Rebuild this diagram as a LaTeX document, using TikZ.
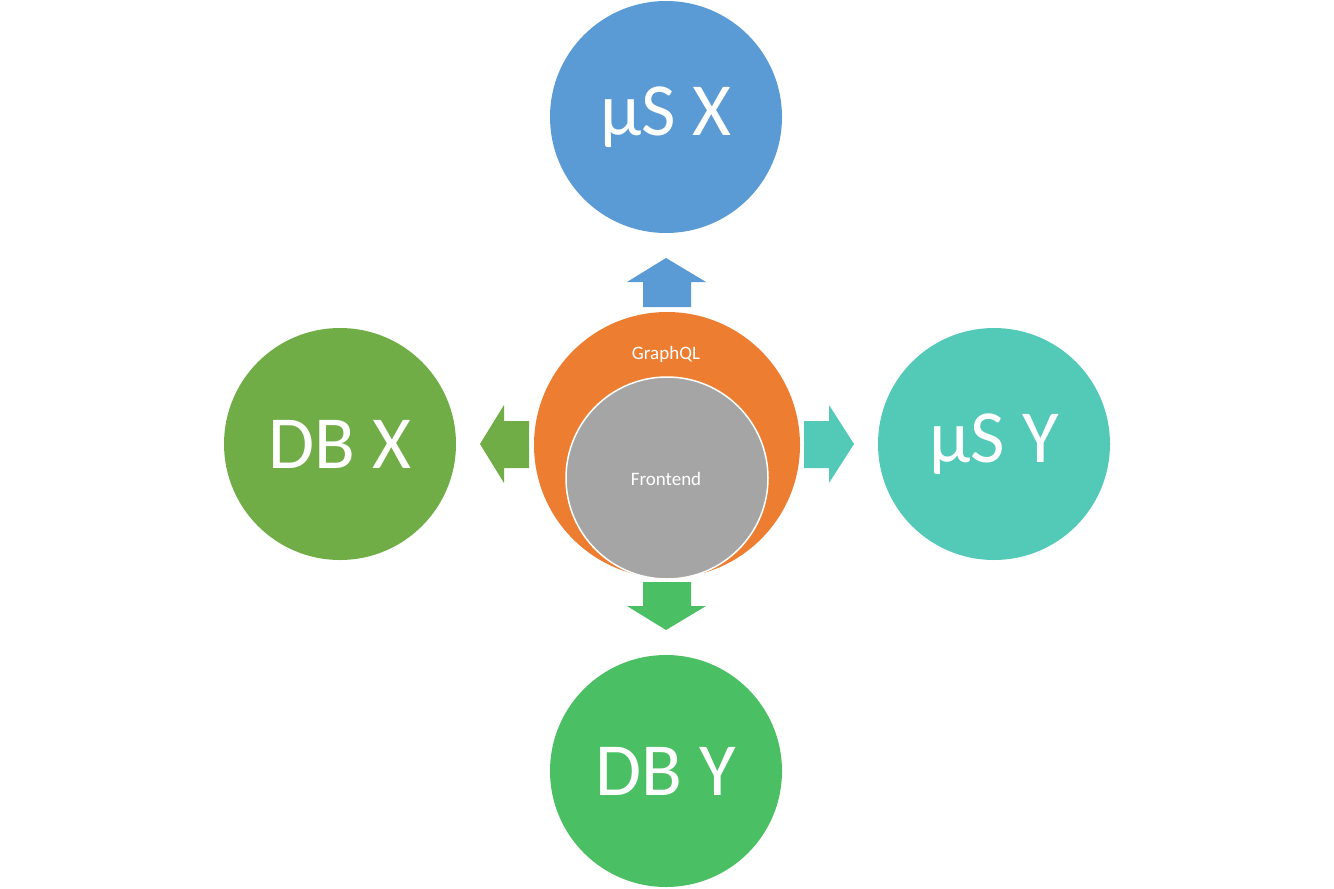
\documentclass[tikz,border=0pt]{standalone}
\usepackage{fontspec}
\setmainfont{Carlito}
\definecolor{cblue}{HTML}{5B9BD5}
\definecolor{corange}{HTML}{ED7D31}
\definecolor{cgrey}{HTML}{A5A5A5}
\definecolor{cgreen}{HTML}{70AD47}
\definecolor{cteal}{HTML}{53C9B7}
\definecolor{cgreen2}{HTML}{4BBF63}
\begin{document}
\begin{tikzpicture}[x=1pt,y=-1pt,
  bigcirc/.style={circle,minimum size=232pt,inner sep=0pt,text=white,font=\fontsize{75}{80}\selectfont},
  smalltxt/.style={text=white,font=\fontsize{19}{22}\selectfont,inner sep=0pt}]
\useasboundingbox (0,0) rectangle (1334,889);
\node[bigcirc,fill=cblue] (msx) at (666,117) {µS X};
\node[bigcirc,fill=cgreen] (dbx) at (340,444) {DB X};
\node[bigcirc,fill=cteal] (msy) at (994,444) {µS Y};
\node[bigcirc,fill=cgreen2] (dby) at (666,771) {DB Y};
\node[circle,fill=corange,minimum size=266pt,inner sep=0pt] (gql) at (667,445) {};
\node[circle,fill=cgrey,draw=white,line width=1.5pt,minimum size=202pt,inner sep=0pt] (fe) at (667,478) {};
\node[smalltxt] (gqlt) at (666,354) {GraphQL};
\node[smalltxt] (fet) at (666,479) {Frontend};
% arrows
\fill[cblue] (643,307) -- (643,282) -- (627,282) -- (666,258) -- (706,282) -- (691,282) -- (691,307) -- cycle;
\fill[cgreen2] (643,582) -- (643,606) -- (627,606) -- (666,630) -- (706,606) -- (691,606) -- (691,582) -- cycle;
\fill[cgreen] (529,421) -- (504,421) -- (504,405) -- (480,444) -- (504,483) -- (504,468) -- (529,468) -- cycle;
\fill[cteal] (804,421) -- (829,421) -- (829,405) -- (854,444) -- (829,483) -- (829,468) -- (804,468) -- cycle;
\end{tikzpicture}
\end{document}
